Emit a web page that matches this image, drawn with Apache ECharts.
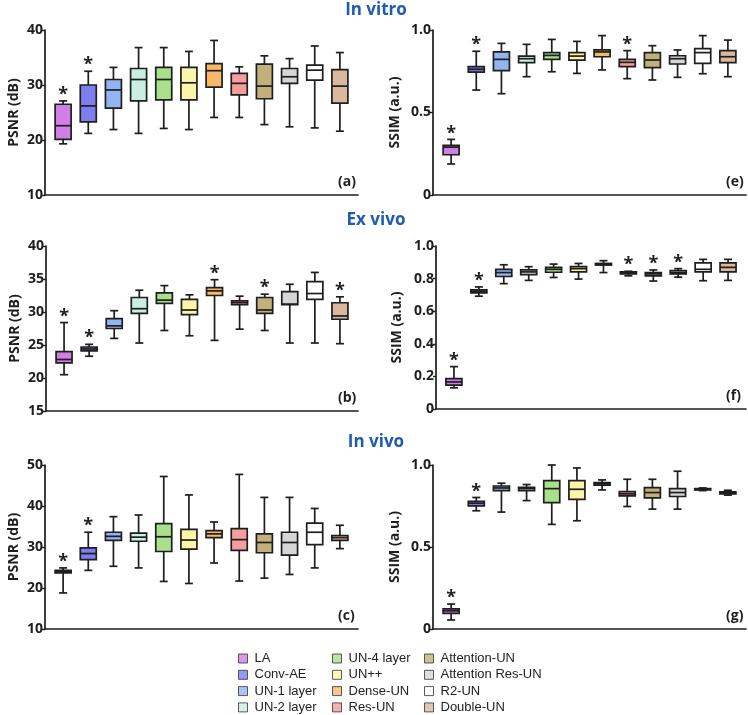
<!DOCTYPE html>
<html><head><meta charset="utf-8">
<script src="https://cdn.jsdelivr.net/npm/echarts@6/dist/echarts.min.js"></script>
<style>html,body{margin:0;padding:0;background:#fff}#c{width:748px;height:715px}</style>
</head><body><div id="c"></div>
<script>
// ---------- DATA ----------
const categories = ['LA','Conv-AE','UN-1 layer','UN-2 layer','UN-4 layer','UN++','Dense-UN','Res-UN','Attention-UN','Attention Res-UN','R2-UN','Double-UN'];

// each entry: [min, Q1, median, Q3, max]
const psnrVitro = [
  [19.3,20.1,22.6,26.5,27.1],[21.2,23.3,26.2,30.0,32.5],[21.9,25.8,29.1,31.0,33.2],[21.2,27.1,31.0,33.0,36.8],
  [22.1,27.3,31.0,33.2,36.8],[21.9,27.3,30.4,33.2,36.1],[24.1,29.6,32.6,33.9,38.1],[24.1,28.2,30.3,32.1,33.3],
  [22.8,27.5,29.8,33.8,35.3],[22.4,30.3,31.5,33.0,34.8],[22.2,30.9,32.7,33.6,37.1],[21.6,26.7,29.8,32.8,35.9]
];
const ssimVitro = [
  [0.188,0.244,0.290,0.301,0.337],[0.636,0.745,0.762,0.778,0.871],[0.614,0.754,0.822,0.867,0.919],[0.717,0.802,0.826,0.842,0.913],
  [0.747,0.822,0.846,0.863,0.943],[0.737,0.818,0.842,0.863,0.931],[0.758,0.838,0.867,0.879,0.966],[0.705,0.778,0.804,0.822,0.875],
  [0.697,0.772,0.818,0.863,0.905],[0.713,0.794,0.826,0.844,0.879],[0.735,0.798,0.863,0.887,0.966],[0.717,0.802,0.838,0.875,0.939]
];
const psnrExVivo = [
  [20.5,22.3,22.8,24.0,28.4],[23.3,24.1,24.4,24.7,25.1],[26.0,27.5,27.9,29.0,30.2],[25.3,29.8,30.5,32.2,33.3],
  [27.2,31.3,31.8,32.9,34.0],[26.4,29.6,30.3,31.9,32.6],[25.7,32.5,33.2,33.7,34.9],[27.4,31.1,31.4,31.7,32.4],
  [27.2,29.8,30.3,32.2,32.7],[25.3,31.1,31.2,33.1,34.2],[25.3,31.9,32.8,34.6,36.0],[25.2,28.9,29.4,31.4,32.3]
];
const ssimExVivo = [
  [0.130,0.146,0.166,0.186,0.260],[0.692,0.713,0.721,0.731,0.749],[0.769,0.813,0.837,0.857,0.885],[0.789,0.825,0.841,0.853,0.873],
  [0.807,0.839,0.857,0.869,0.889],[0.797,0.841,0.861,0.873,0.893],[0.837,0.883,0.889,0.893,0.910],[0.817,0.829,0.835,0.841,0.845],
  [0.785,0.817,0.829,0.837,0.853],[0.809,0.829,0.837,0.849,0.861],[0.787,0.841,0.857,0.897,0.918],[0.789,0.841,0.869,0.897,0.918]
];
const psnrInVivo = [
  [18.8,23.7,24.0,24.3,24.9],[24.3,26.9,28.4,29.8,33.6],[25.3,31.6,32.6,33.6,37.4],[24.9,31.4,32.4,33.4,37.8],
  [21.6,28.9,32.5,35.7,47.2],[21.1,29.5,31.7,34.3,42.7],[26.1,32.3,33.2,34.0,36.1],[21.7,29.2,31.8,34.5,47.7],
  [22.4,28.6,31.1,33.2,42.1],[23.3,28.0,31.1,33.6,42.1],[24.9,30.6,33.6,35.8,39.4],[29.6,31.6,32.3,32.8,35.3]
];
const ssimInVivo = [
  [0.055,0.095,0.111,0.123,0.152],[0.721,0.751,0.767,0.779,0.802],[0.713,0.844,0.860,0.872,0.889],[0.783,0.844,0.856,0.864,0.881],
  [0.638,0.771,0.856,0.905,1.000],[0.660,0.791,0.852,0.905,0.982],[0.848,0.877,0.885,0.893,0.909],[0.747,0.812,0.824,0.838,0.913],
  [0.731,0.800,0.832,0.862,0.913],[0.731,0.808,0.832,0.856,0.962],[0.844,0.848,0.852,0.856,0.860],[0.816,0.824,0.830,0.836,0.846]
];

// categories marked with an asterisk
const psnrVitroStars = ['LA','Conv-AE'];
const ssimVitroStars = ['LA','Conv-AE','Res-UN'];
const psnrExVivoStars = ['LA','Conv-AE','Dense-UN','Attention-UN','Double-UN'];
const ssimExVivoStars = ['LA','Conv-AE','Res-UN','Attention-UN','Attention Res-UN'];
const psnrInVivoStars = ['LA','Conv-AE'];
const ssimInVivoStars = ['LA','Conv-AE'];

// y tick values
const psnrVitroTicks = [10,20,30,40];
const ssimVitroTicks = [0,0.5,1.0];
const psnrExVivoTicks = [15,20,25,30,35,40];
const ssimExVivoTicks = [0,0.2,0.4,0.6,0.8,1.0];
const psnrInVivoTicks = [10,20,30,40,50];
const ssimInVivoTicks = [0,0.5,1.0];

const sectionTitles = ['In vitro','Ex vivo','In vivo'];
const panelLabels = ['(a)','(e)','(b)','(f)','(c)','(g)'];

// ---------- STYLE / LAYOUT ----------
const colors = ['#d07fe6','#7d7ef0','#93b4f2','#c8efe1','#a8e08c','#fbf5aa','#f8b86a','#f59c9e','#c2b07a','#d6d6d6','#ffffff','#dbb89d'];
const ink = '#1e1e1e';
const FONT = 'Open Sans';

const panels = [
  {data: psnrVitro, stars: psnrVitroStars, ticks: psnrVitroTicks, name: 'PSNR (dB)', grid: {left: 45, top: 30, width: 313, height: 165}, gap: 24},
  {data: ssimVitro, stars: ssimVitroStars, ticks: ssimVitroTicks, name: 'SSIM (a.u.)', grid: {left: 433, top: 30, width: 313, height: 165}, gap: 31},
  {data: psnrExVivo, stars: psnrExVivoStars, ticks: psnrExVivoTicks, name: 'PSNR (dB)', grid: {left: 46, top: 246, width: 312, height: 165}, gap: 24},
  {data: ssimExVivo, stars: ssimExVivoStars, ticks: ssimExVivoTicks, name: 'SSIM (a.u.)', grid: {left: 436, top: 246, width: 310, height: 163}, gap: 32},
  {data: psnrInVivo, stars: psnrInVivoStars, ticks: psnrInVivoTicks, name: 'PSNR (dB)', grid: {left: 45, top: 465, width: 313, height: 164}, gap: 24},
  {data: ssimInVivo, stars: ssimInVivoStars, ticks: ssimInVivoTicks, name: 'SSIM (a.u.)', grid: {left: 433, top: 465, width: 313, height: 164}, gap: 31}
];

function renderBox(params, api) {
  const i = api.value(0);
  const pLo = api.coord([i, api.value(1)]);
  const pQ1 = api.coord([i, api.value(2)]);
  const pMd = api.coord([i, api.value(3)]);
  const pQ3 = api.coord([i, api.value(4)]);
  const pHi = api.coord([i, api.value(5)]);
  const cx = pLo[0];
  const bw = 16, cw = 8;
  const ls = {stroke: ink, lineWidth: 1.7};
  const ch = [
    {type: 'line', shape: {x1: cx, y1: pQ3[1], x2: cx, y2: pHi[1]}, style: ls},
    {type: 'line', shape: {x1: cx, y1: pQ1[1], x2: cx, y2: pLo[1]}, style: ls},
    {type: 'line', shape: {x1: cx - cw/2, y1: pHi[1], x2: cx + cw/2, y2: pHi[1]}, style: ls},
    {type: 'line', shape: {x1: cx - cw/2, y1: pLo[1], x2: cx + cw/2, y2: pLo[1]}, style: ls},
    {type: 'rect', shape: {x: cx - bw/2, y: pQ3[1], width: bw, height: Math.max(pQ1[1] - pQ3[1], 1)},
      style: {fill: colors[i], stroke: ink, lineWidth: 1.7}},
    {type: 'line', shape: {x1: cx - bw/2, y1: pMd[1], x2: cx + bw/2, y2: pMd[1]}, style: ls}
  ];
  if (api.value(6) === 1) {
    ch.push({type: 'text', x: cx, y: pHi[1] + 3,
      style: {text: '*', fill: ink, font: 'bold 18px ' + FONT, align: 'center', verticalAlign: 'bottom'}});
  }
  return {type: 'group', children: ch};
}

const option = {
  animation: false,
  backgroundColor: '#fff',
  grid: [], xAxis: [], yAxis: [], series: [], legend: [], graphic: []
};

panels.forEach((p, k) => {
  option.grid.push(Object.assign({containLabel: false}, p.grid));
  option.xAxis.push({type: 'value', gridIndex: k, min: -0.72, max: 11.72,
    axisLine: {show: true, onZero: false, lineStyle: {color: ink, width: 1.7}},
    axisTick: {show: false}, axisLabel: {show: false}, splitLine: {show: false}});
  const step = p.ticks[1] - p.ticks[0];
  const dec = step < 1;
  option.yAxis.push({type: 'value', gridIndex: k, min: p.ticks[0], max: p.ticks[p.ticks.length - 1], interval: step,
    name: p.name, nameLocation: 'middle', nameRotate: 90, nameGap: p.gap,
    nameTextStyle: {fontFamily: FONT, fontWeight: 'bold', fontSize: 14, color: ink},
    axisLine: {show: true, onZero: false, lineStyle: {color: ink, width: 1.7}},
    axisTick: {show: true, length: 3, lineStyle: {color: ink, width: 1.4}},
    axisLabel: {margin: 2, fontFamily: FONT, fontWeight: 'bold', fontSize: 14, color: ink,
      formatter: v => (v === 0 ? '0' : (dec ? v.toFixed(1) : String(v)))},
    splitLine: {show: false}});
  option.series.push({
    type: 'custom', xAxisIndex: k, yAxisIndex: k, renderItem: renderBox,
    encode: {x: 0, y: [1, 2, 3, 4, 5]},
    data: p.data.map((d, i) => [i, d[0], d[1], d[2], d[3], d[4], p.stars.includes(categories[i]) ? 1 : 0])
  });
  const g = p.grid;
  option.graphic.push({type: 'text', left: g.left + g.width - 20, top: g.top + g.height - 20,
    style: {text: panelLabels[k], font: 'bold 14px ' + FONT, fill: ink}});
});

// dummy series for legend
categories.forEach((c, i) => {
  option.series.push({type: 'scatter', name: c, xAxisIndex: 0, yAxisIndex: 0, data: [],
    itemStyle: {color: colors[i], borderColor: '#333', borderWidth: 1}});
});
const legendCols = [categories.slice(0, 4), categories.slice(4, 8), categories.slice(8, 12)];
const legendLeft = [238, 332, 424];
legendCols.forEach((cols, j) => {
  option.legend.push({data: cols, orient: 'vertical', left: legendLeft[j], top: 652, padding: 0, height: 70,
    icon: 'rect', itemWidth: 9, itemHeight: 9, itemGap: 3.3, selectedMode: false,
    itemStyle: {borderColor: '#333', borderWidth: 1},
    textStyle: {fontFamily: 'Liberation Sans', fontSize: 13, color: '#222', padding: [0, 0, 0, 2], lineHeight: 13}});
});

const titleY = [10, 220, 442];
sectionTitles.forEach((t, j) => {
  option.graphic.push({type: 'text', x: 376, y: titleY[j],
    style: {text: t, font: 'bold 17px ' + FONT, fill: '#1f5bb0', align: 'center', verticalAlign: 'middle'}});
});

const chart = echarts.init(document.getElementById('c'), null, {renderer: 'canvas'});
chart.setOption(option);
</script>
</body></html>
